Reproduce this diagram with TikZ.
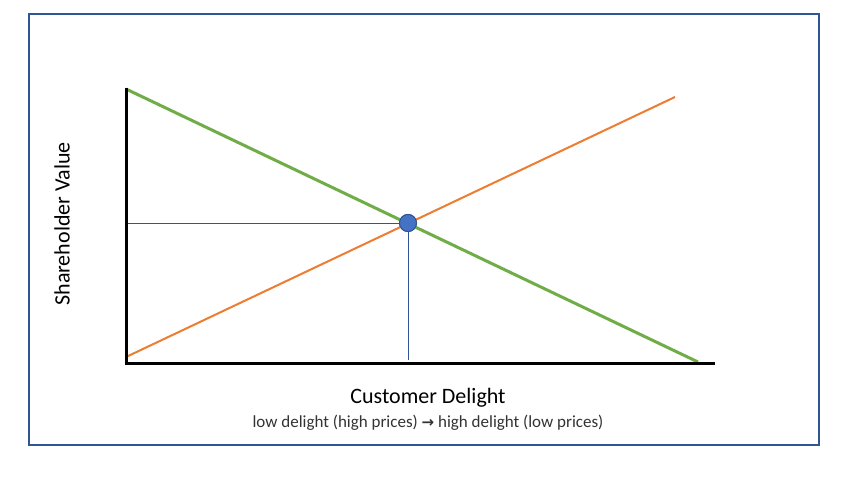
\documentclass[tikz,border=0pt]{standalone}
\usepackage{fontspec}
\setmainfont{Carlito}
\newfontfamily\symfont{DejaVu Sans}
\definecolor{frameblue}{HTML}{2F5597}
\definecolor{ptblue}{HTML}{4472C4}
\definecolor{lgreen}{HTML}{70AD47}
\definecolor{lorange}{HTML}{ED7D31}
\begin{document}
\begin{tikzpicture}[x=1pt,y=-1pt,
  axis/.style={line width=3pt,black},
  guide/.style={line width=0.8pt,frameblue},
  lbl/.style={inner sep=0pt,font=\fontsize{22}{24}\selectfont}]
\useasboundingbox (0,0) rectangle (867,502);
\fill[white] (0,0) rectangle (867,502);
\draw[frameblue,line width=2pt] (29,14) rectangle (819,445);
% coordinates
\coordinate (O) at (126,363);
\coordinate (Ytop) at (126,88);
\coordinate (Xend) at (715,363);
\coordinate (Gs) at (126,89);
\coordinate (Ge) at (698,362);
\coordinate (Os) at (126,357);
\coordinate (Oe) at (675,97);
\coordinate (Hy) at (126,223);
\coordinate (Vb) at (408,360);
\node[circle,fill=ptblue,draw=frameblue,line width=1pt,minimum size=17pt,inner sep=0pt] (P) at (408,223) {};
% guide lines
\draw[guide] (Hy) -- (P.center);
\draw[guide] (P.center) -- (Vb);
% lines
\draw[lorange,line width=2pt] (Os) -- (Oe);
\draw[lgreen,line width=3pt] (Gs) -- (Ge);
\node[circle,fill=ptblue,draw=frameblue,line width=1pt,minimum size=17pt,inner sep=0pt] at (P) {};
% axes
\draw[axis] (Ytop) -- ([yshift=-1.5pt]O.center) ;
\draw[axis] ([xshift=-1.5pt]O) -- (Xend);
% labels
\node[lbl] (xl) at (428,398) {Customer Delight};
\node[inner sep=0pt,text=black!80,font=\fontsize{17}{19}\selectfont] (sub) at (428,423) {low delight (high prices) {\symfont\bfseries\fontsize{15}{17}\selectfont →} high delight (low prices)};
\node[lbl,rotate=90] (yl) at (62,224) {Shareholder Value};
\end{tikzpicture}
\end{document}
